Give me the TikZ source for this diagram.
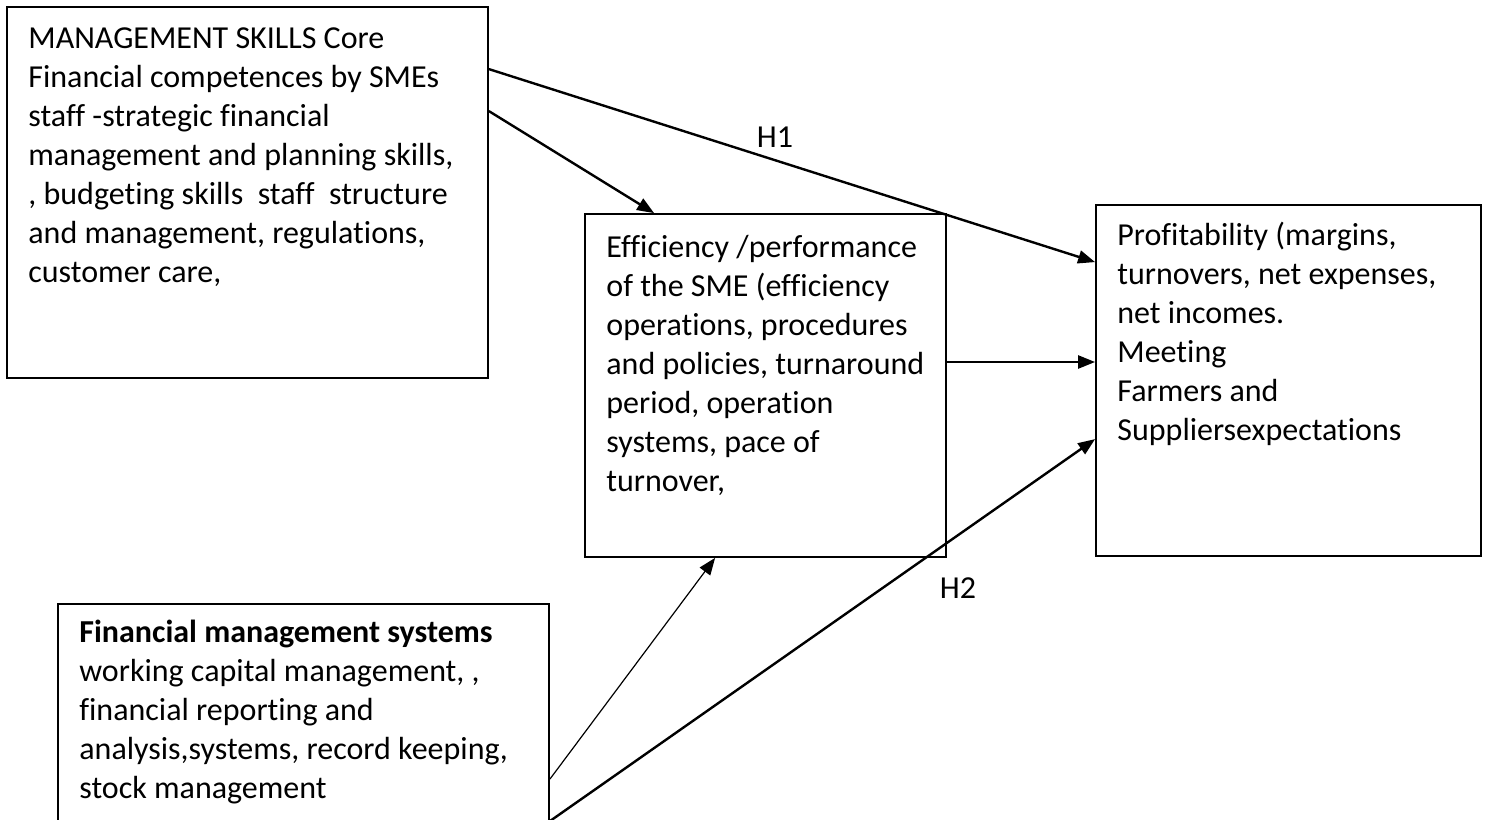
\documentclass[tikz,border=0pt]{standalone}
\usepackage{fontspec}
\setmainfont{Carlito}[Ligatures=NoCommon]
\usepackage{tikz}
\usetikzlibrary{positioning, arrows.meta, calc}

\begin{document}
\begin{tikzpicture}[
        x=0.5pt, y=-0.5pt,
        box/.style={draw, line width=0.9pt, inner sep=0pt},
        boxtext/.style={anchor=north west, inner sep=0pt, align=left, font=\fontsize{16}{19.5}\selectfont},
        hlabel/.style={inner sep=0pt, font=\fontsize{16}{19.5}\selectfont},
        link/.style={draw, ->, line width=1.2pt, >={Triangle[length=8.5pt,width=6.5pt]}},
        thinlink/.style={link, line width=0.6pt}
    ]
    \useasboundingbox (0,0) rectangle (1488,819);
    % the four boxes
    \node[box, minimum width=240.5pt, minimum height=185.5pt] (skills) at (247.5,192.5) {};
    \node[box, minimum width=180.5pt, minimum height=171.5pt] (effic) at (765.5,385.5) {};
    \node[box, minimum width=192.5pt, minimum height=175.5pt] (profit) at (1288.5,380.5) {};
    \node[box, minimum width=245.5pt, minimum height=128pt] (fmsys) at (303.5,732) {};

    % texts
    \node[boxtext] (skillstext) at (28,27) {MANAGEMENT SKILLS Core\\
        Financial competences by SMEs\\
        staff -strategic financial\\
        management and planning skills,\\
        , budgeting skills\ \ staff\ \ structure\\
        and management, regulations,\\
        customer care,};
    \node[boxtext] (effictext) at (606,235) {Efficiency /performance\\
        of the SME (efficiency\\
        operations, procedures\\
        and policies, turnaround\\
        period, operation\\
        systems, pace of\\
        turnover,};
    \node[boxtext] (profittext) at (1117,222) {Profitability (margins,\\
        turnovers, net expenses,\\
        net incomes.\\
        Meeting\\
        Farmers and\\
        Suppliersexpectations};
    \node[boxtext] (fmsystext) at (79,620) {\textbf{Financial management systems}\\
        working capital management, ,\\
        financial reporting and\\
        analysis,systems, record keeping,\\
        stock management};

    % hypothesis labels
    \node[hlabel] (h1) at (775,137) {H1};
    \node[hlabel] (h2) at (958,588) {H2};

    % connectors
    \coordinate (efficout) at ([yshift=11.75pt]effic.east);
    \draw[link] ([yshift=-31.5pt]skills.north east) -- ([yshift=-29pt]profit.north west);
    \draw[link] ([yshift=-52.5pt]skills.north east) -- ([xshift=35pt]effic.north west);
    \draw[link] (efficout) -- (efficout -| profit.west);
    \draw[thinlink] ([yshift=-88pt]fmsys.north east) -- ([xshift=65.5pt]effic.south west);
    \draw[link] ([yshift=-109pt]fmsys.north east) -- ([yshift=-117.5pt]profit.north west);
\end{tikzpicture}
\end{document}
